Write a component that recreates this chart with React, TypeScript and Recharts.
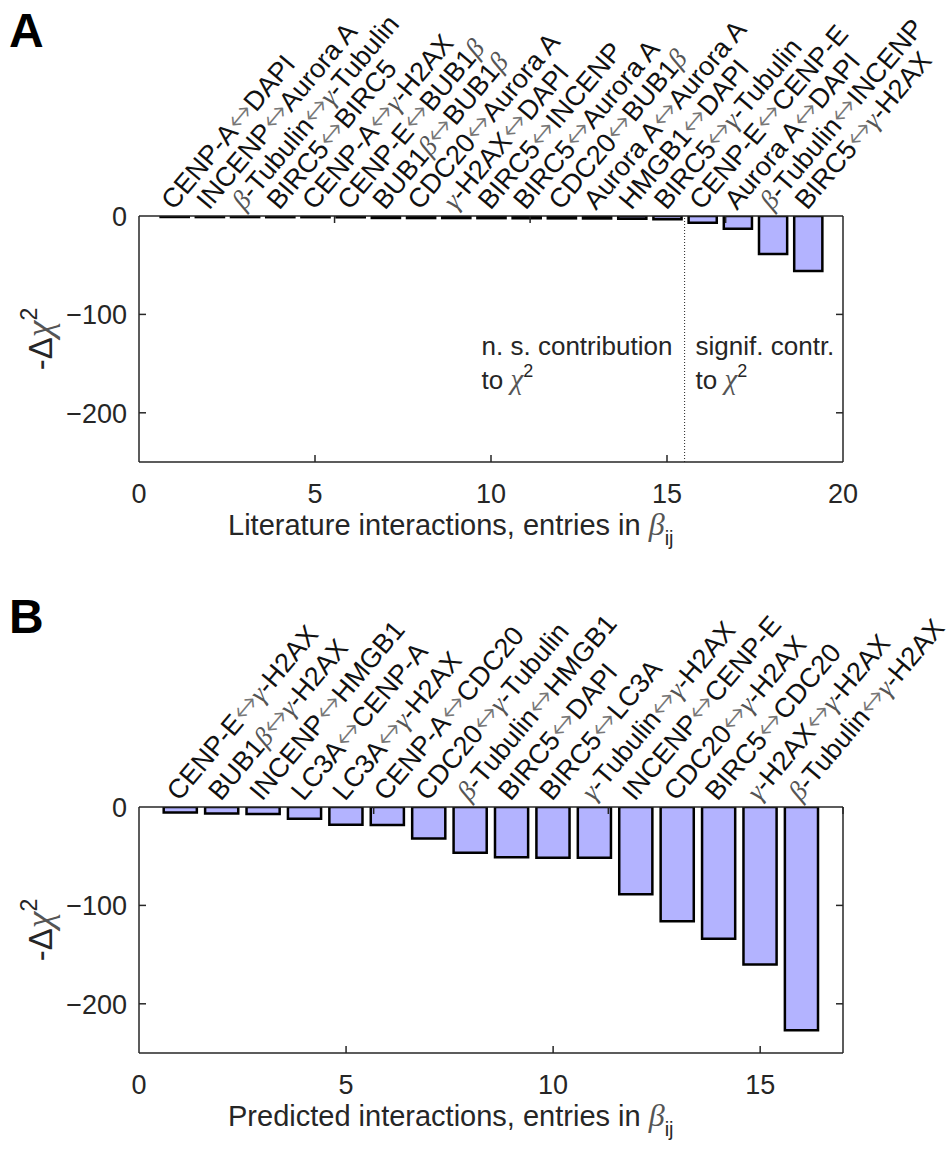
import React from "react";
import { BarChart, Bar, XAxis, YAxis, ReferenceLine, LabelList } from "recharts";

// A: literature interactions
const labelsA = [
  "CENP-A↔DAPI",
  "INCENP↔Aurora A",
  "β-Tubulin↔γ-Tubulin",
  "BIRC5↔BIRC5",
  "CENP-A↔γ-H2AX",
  "CENP-E↔BUB1β",
  "BUB1β↔BUB1β",
  "CDC20↔Aurora A",
  "γ-H2AX↔DAPI",
  "BIRC5↔INCENP",
  "BIRC5↔Aurora A",
  "CDC20↔BUB1β",
  "Aurora A↔Aurora A",
  "HMGB1↔DAPI",
  "BIRC5↔γ-Tubulin",
  "CENP-E↔CENP-E",
  "Aurora A↔DAPI",
  "β-Tubulin↔INCENP",
  "BIRC5↔γ-H2AX",
];
const valuesA = [
  -1.0, -1.1, -1.1, -1.2, -1.2, -1.3, -2.0, -2.1, -2.1, -2.2, -2.3, -2.4,
  -2.5, -2.7, -3.2, -6.8, -13, -38.5, -55.8,
];
const xTicksA = [0, 5, 10, 15, 20];
const splitA = 15.5;

// B: predicted interactions
const labelsB = [
  "CENP-E↔γ-H2AX",
  "BUB1β↔γ-H2AX",
  "INCENP↔HMGB1",
  "LC3A↔CENP-A",
  "LC3A↔γ-H2AX",
  "CENP-A↔CDC20",
  "CDC20↔γ-Tubulin",
  "β-Tubulin↔HMGB1",
  "BIRC5↔DAPI",
  "BIRC5↔LC3A",
  "γ-Tubulin↔γ-H2AX",
  "INCENP↔CENP-E",
  "CDC20↔γ-H2AX",
  "BIRC5↔CDC20",
  "γ-H2AX↔γ-H2AX",
  "β-Tubulin↔γ-H2AX",
];
const valuesB = [
  -5.5, -6.5, -7, -12, -18, -18.3, -32, -46.5, -51, -51.6, -51.6, -88.6,
  -116, -134, -160, -227,
];
const xTicksB = [0, 5, 10, 15, 17];

const yTicks = [-250, -200, -100, 0];

const SANS = "'Liberation Sans', Arial, Helvetica, sans-serif";
const SERIF = "'Liberation Serif', 'Times New Roman', serif";
const INK = "#262626";
const GREEK = /([βγχ↔])/;

function rich(s: string) {
  return s
    .split(GREEK)
    .filter(Boolean)
    .map((part, i) => {
      if (part === "↔")
        return (
          <tspan key={i} fontFamily="'DejaVu Sans', sans-serif" fontWeight={200} fontSize={31} fill="#777">
            ↔
          </tspan>
        );
      if (GREEK.test(part))
        return (
          <tspan key={i} fontFamily={SERIF} fontStyle="italic" fill="#555">
            {part}
          </tspan>
        );
      return <tspan key={i}>{part}</tspan>;
    });
}

const fmt = (v: number) => (v < 0 ? "\u2212" + Math.abs(v) : String(v));
const inner = (v: number, lo: number, hi: number) => v > lo && v < hi;

// rotated pair label above each bar
function BarLabel(props: any) {
  const { x, y, width, height, value } = props;
  if (value == null) return null;
  const cx = x + width / 2;
  const top = Math.min(y, y + height);
  const ax = cx - 1;
  const ay = top - 5;
  return (
    <text
      x={ax}
      y={ay}
      transform={`rotate(-50 ${ax} ${ay})`}
      fontFamily={SANS}
      fontSize={27}
      fill="#111"
    >
      {rich(String(value))}
    </text>
  );
}

function TopTick(props: any) {
  const { x, y, payload, xMax } = props;
  if (!inner(payload.value, 0, xMax)) return <g />;
  return <line x1={x} y1={y} x2={x} y2={y + 7} stroke={INK} strokeWidth={1.5} />;
}

function BottomTick(props: any) {
  const { x, y, payload, xMax } = props;
  const v = payload.value as number;
  if (v % 5 !== 0) return <g />;
  return (
    <g>
      {inner(v, 0, xMax) && <line x1={x} y1={y} x2={x} y2={y - 7} stroke={INK} strokeWidth={1.5} />}
      <text x={x} y={y + 41} textAnchor="middle" fontFamily={SANS} fontSize={27} fill={INK}>
        {fmt(v)}
      </text>
    </g>
  );
}

function LeftTick(props: any) {
  const { x, y, payload } = props;
  const v = payload.value as number;
  if (v % 100 !== 0) return <g />;
  return (
    <g>
      {v !== 0 && <line x1={x} y1={y} x2={x + 7} y2={y} stroke={INK} strokeWidth={1.5} />}
      <text x={x - 12} y={y + 10} textAnchor="end" fontFamily={SANS} fontSize={27} fill={INK}>
        {fmt(v)}
      </text>
    </g>
  );
}

function RightTick(props: any) {
  const { x, y, payload } = props;
  if (!inner(payload.value, -250, 0)) return <g />;
  return <line x1={x} y1={y} x2={x - 7} y2={y} stroke={INK} strokeWidth={1.5} />;
}

function XTitle(props: any) {
  const { viewBox, text } = props;
  const x = viewBox?.x ?? 139;
  const y = viewBox?.y ?? 0;
  return (
    <text x={x + 89} y={y + 73} fontFamily={SANS} fontSize={29} fill={INK}>
      {text}
      <tspan fontFamily={SERIF} fontStyle="italic" fill="#555" fontSize={32}>
        β
      </tspan>
      <tspan dy={10} fontSize={20}>
        ij
      </tspan>
    </text>
  );
}

function YTitle(props: any) {
  const { viewBox } = props;
  const cy = (viewBox?.y ?? 0) + (viewBox?.height ?? 0) / 2;
  const bx = 52;
  return (
    <text
      x={bx}
      y={cy}
      transform={`rotate(-90 ${bx} ${cy})`}
      textAnchor="middle"
      fontFamily={SANS}
      fontSize={33}
      fill={INK}
    >
      -Δ
      <tspan fontFamily={SERIF} fontStyle="italic" fill="#555" fontSize={38}>
        χ
      </tspan>
      <tspan dy={-15} fontSize={23}>
        2
      </tspan>
    </text>
  );
}

function SplitNote(props: any) {
  const { viewBox } = props;
  const x = viewBox?.x ?? 0;
  const top = viewBox?.y ?? 0;
  const chi = (
    <>
      <tspan fontFamily={SERIF} fontStyle="italic" fill="#555" fontSize={29}>
        χ
      </tspan>
      <tspan dy={-12} fontSize={18}>
        2
      </tspan>
    </>
  );
  return (
    <g fontFamily={SANS} fontSize={26} fill={INK}>
      <text x={x - 203} y={top + 139}>n. s. contribution</text>
      <text x={x - 203} y={top + 173}>
        to {chi}
      </text>
      <text x={x + 11} y={top + 139}>signif. contr.</text>
      <text x={x + 11} y={top + 173}>
        to {chi}
      </text>
    </g>
  );
}

interface PanelProps {
  labels: string[];
  values: number[];
  xMax: number;
  xTicks: number[];
  title: string;
  height: number;
  labelSpace: number;
  bottomSpace: number;
  split?: number;
}

function Panel({ labels, values, xMax, xTicks, title, height, labelSpace, bottomSpace, split }: PanelProps) {
  const data = labels.map((label, i) => ({ pos: i + 1, label, value: values[i] }));
  const plotWidth = 947 - 139 - 104;
  const axisLine = { stroke: INK, strokeWidth: 1.5 };
  return (
    <BarChart width={947} height={height} data={data} margin={{ top: 0, right: 0, bottom: 0, left: 0 }}>
      <XAxis
        xAxisId="top"
        orientation="top"
        type="number"
        domain={[0, xMax]}
        ticks={xTicks}
        interval={0}
        height={labelSpace}
        tickSize={0}
        tickMargin={0}
        tickLine={false}
        axisLine={axisLine}
        allowDataOverflow
        tick={(p: any) => <TopTick {...p} xMax={xMax} />}
      />
      <XAxis
        dataKey="pos"
        type="number"
        domain={[0, xMax]}
        ticks={xTicks}
        interval={0}
        height={bottomSpace}
        tickSize={0}
        tickMargin={0}
        tickLine={false}
        axisLine={axisLine}
        allowDataOverflow
        tick={(p: any) => <BottomTick {...p} xMax={xMax} />}
        label={<XTitle text={title} />}
      />
      <YAxis
        type="number"
        domain={[-250, 0]}
        ticks={yTicks}
        interval={0}
        width={139}
        tickSize={0}
        tickMargin={0}
        tickLine={false}
        axisLine={axisLine}
        allowDataOverflow
        tick={(p: any) => <LeftTick {...p} />}
        label={<YTitle />}
      />
      <YAxis
        yAxisId="right"
        orientation="right"
        type="number"
        domain={[-250, 0]}
        ticks={yTicks}
        interval={0}
        width={104}
        tickSize={0}
        tickMargin={0}
        tickLine={false}
        axisLine={axisLine}
        allowDataOverflow
        tick={(p: any) => <RightTick {...p} />}
      />
      {split !== undefined && (
        <ReferenceLine
          x={split}
          stroke={INK}
          strokeWidth={1}
          strokeDasharray="1 2"
          label={<SplitNote />}
        />
      )}
      <Bar
        dataKey="value"
        fill="#b3b3ff"
        stroke="#000"
        strokeWidth={2.5}
        barSize={(0.8 * plotWidth) / xMax}
        isAnimationActive={false}
      >
        <LabelList dataKey="label" content={(p: any) => <BarLabel {...p} />} />
      </Bar>
    </BarChart>
  );
}

function PanelLetter({ letter, y }: { letter: string; y: number }) {
  return (
    <svg width={70} height={70} style={{ position: "absolute", left: 0, top: y - 55 }}>
      <text x={9} y={55} fontFamily={SANS} fontWeight="bold" fontSize={48} fill="#000">
        {letter}
      </text>
    </svg>
  );
}

export default function App() {
  return (
    <div
      style={{
        position: "absolute",
        left: 0,
        top: 0,
        width: 947,
        height: 1160,
        background: "#fff",
        overflow: "hidden",
      }}
    >
      <div style={{ position: "absolute", left: 0, top: 0 }}>
        <Panel
          labels={labelsA}
          values={valuesA}
          xMax={20}
          xTicks={xTicksA}
          title="Literature interactions, entries in "
          height={590}
          labelSpace={216}
          bottomSpace={128}
          split={splitA}
        />
      </div>
      <div style={{ position: "absolute", left: 0, top: 560 }}>
        <Panel
          labels={labelsB}
          values={valuesB}
          xMax={17}
          xTicks={xTicksB}
          title="Predicted interactions, entries in "
          height={600}
          labelSpace={247}
          bottomSpace={107}
        />
      </div>
      <PanelLetter letter="A" y={47} />
      <PanelLetter letter="B" y={633} />
    </div>
  );
}
